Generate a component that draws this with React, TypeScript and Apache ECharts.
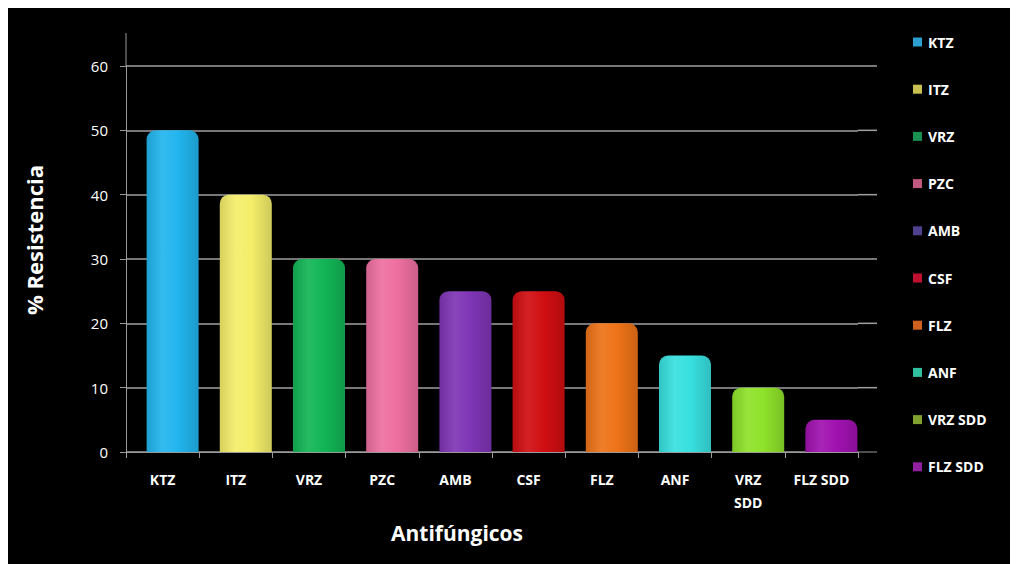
import React, { useEffect, useRef } from "react";
import * as echarts from "echarts";

const categories = ["KTZ", "ITZ", "VRZ", "PZC", "AMB", "CSF", "FLZ", "ANF", "VRZ SDD", "FLZ SDD"];
const values = [50, 40, 30, 30, 25, 25, 20, 15, 10, 5];
const barColors = ["#22B5EE", "#F4EE6A", "#12B555", "#EE6FA0", "#7F35B5", "#D00E12", "#EE7318", "#38E0E0", "#8EE22A", "#A012B0"];
const legendColors = ["#2A9FD0", "#C8C050", "#1A9050", "#C05880", "#504090", "#C01030", "#D06020", "#30C0A0", "#80A030", "#9020A0"];
const yTicks = [0, 10, 20, 30, 40, 50, 60];

const FONT = "'Open Sans', 'Noto Sans', sans-serif";
const W = 1010;
const H = 556;
const GRID_LEFT = 118;
const GRID_RIGHT = 160;
const GRID_TOP = 58;
const GRID_BOTTOM = 112;

function shade(hex: string, f: number): string {
  const n = parseInt(hex.slice(1), 16);
  let r = (n >> 16) & 255, g = (n >> 8) & 255, b = n & 255;
  const adj = (c: number) => Math.max(0, Math.min(255, Math.round(f >= 0 ? c + (255 - c) * f : c * (1 + f))));
  r = adj(r); g = adj(g); b = adj(b);
  return "#" + ((1 << 24) + (r << 16) + (g << 8) + b).toString(16).slice(1);
}

export default function App() {
  const ref = useRef<HTMLDivElement>(null);
  useEffect(() => {
    if (!ref.current) return;
    const chart = echarts.init(ref.current, null, { renderer: "svg" });
    const spacer = {
      name: "spacer",
      type: "bar",
      stack: "spacer",
      barWidth: 20,
      barGap: 0,
      silent: true,
      data: categories.map(() => "-"),
      itemStyle: { color: "transparent" },
    };
    const series: any[] = [spacer].concat(
      categories.map((name, i) => ({
        name,
        type: "bar",
        stack: "all",
        barWidth: 52,
        barGap: 0,
        data: categories.map((_, j) => (j === i ? values[i] : "-")),
        itemStyle: {
          borderRadius: [9, 9, 0, 0],
          color: new echarts.graphic.LinearGradient(0, 0, 1, 0, [
            { offset: 0, color: shade(barColors[i], -0.12) },
            { offset: 0.3, color: shade(barColors[i], 0.08) },
            { offset: 0.6, color: barColors[i] },
            { offset: 1, color: shade(barColors[i], -0.15) },
          ]),
        },
      })) as any[]
    );
    chart.setOption({
      animation: false,
      backgroundColor: "#000000",
      grid: { left: GRID_LEFT, right: GRID_RIGHT, top: GRID_TOP, bottom: GRID_BOTTOM, containLabel: false },
      legend: {
        orient: "vertical",
        left: 900,
        top: 21,
        itemWidth: 9,
        itemHeight: 9,
        itemGap: 31.2,
        icon: "rect",
        data: categories.map((name, i) => ({ name, itemStyle: { color: legendColors[i] } })),
        textStyle: { color: "#FFFFFF", fontFamily: FONT, fontWeight: "bold", fontSize: 14, lineHeight: 16, padding: [0, 0, 0, 1] },
      },
      xAxis: {
        type: "category",
        data: categories,
        axisLine: { lineStyle: { color: "#9A9A9A", width: 1 } },
        axisTick: { show: true, length: 6, lineStyle: { color: "#9A9A9A" } },
        axisLabel: {
          color: "#FFFFFF",
          fontFamily: FONT,
          fontWeight: "bold",
          fontSize: 14,
          lineHeight: 23,
          margin: 16,
          interval: 0,
          formatter: (v: string) => (v === "VRZ SDD" ? "VRZ\nSDD" : v),
        },
      },
      yAxis: {
        type: "value",
        min: yTicks[0],
        max: yTicks[yTicks.length - 1],
        interval: 10,
        axisLine: { show: true, lineStyle: { color: "#9A9A9A", width: 1 } },
        axisTick: { show: true, length: 6, lineStyle: { color: "#9A9A9A" } },
        splitLine: { show: true, lineStyle: { color: "#A0A0A0", width: 1.5 } },
        axisLabel: { color: "#FFFFFF", fontFamily: FONT, fontSize: 15, margin: 18 },
      },
      series,
    });

    const rightX = W - GRID_RIGHT;
    const extra: any[] = [
      {
        type: "line",
        shape: { x1: GRID_LEFT, y1: 25, x2: GRID_LEFT, y2: GRID_TOP },
        style: { stroke: "#9A9A9A", lineWidth: 1 },
      },
      {
        type: "text",
        x: 26,
        y: 232,
        rotation: Math.PI / 2,
        style: { text: "% Resistencia", fill: "#FFFFFF", font: `bold 22px ${FONT}`, textAlign: "center", textVerticalAlign: "middle" },
      },
      {
        type: "text",
        x: 449,
        y: 525,
        style: { text: "Antifúngicos", fill: "#FFFFFF", font: `bold 21px ${FONT}`, textAlign: "center", textVerticalAlign: "middle" },
      },
    ];
    yTicks.forEach((v) => {
      const y = chart.convertToPixel({ yAxisIndex: 0 }, v) as number;
      extra.push({
        type: "line",
        shape: { x1: rightX, y1: y, x2: rightX + 19, y2: y },
        style: { stroke: v === 0 ? "#9A9A9A" : "#A0A0A0", lineWidth: v === 0 ? 1 : 1.5 },
      });
    });
    chart.setOption({ graphic: extra });
    return () => chart.dispose();
  }, []);
  return <div ref={ref} style={{ width: W, height: H }} />;
}
